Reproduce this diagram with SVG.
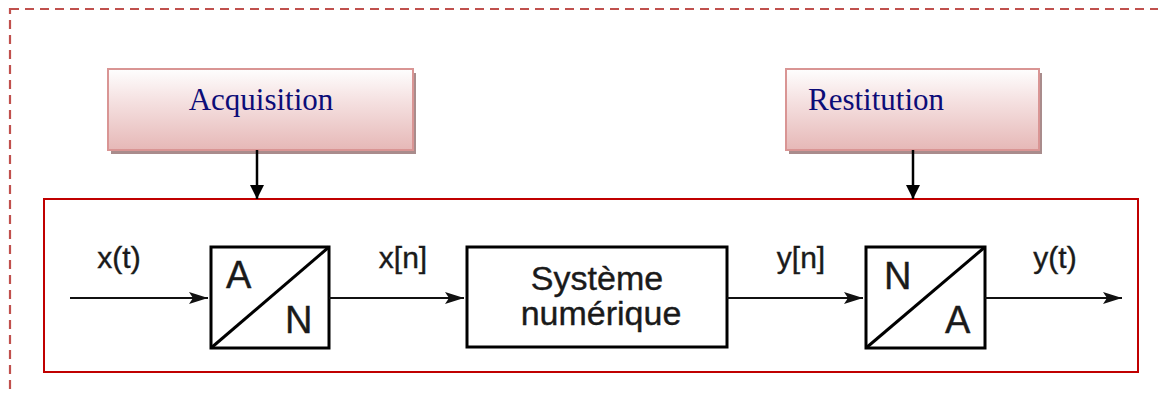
<svg xmlns="http://www.w3.org/2000/svg" width="1158" height="394" viewBox="0 0 1158 394">
<defs>
<linearGradient id="pink" x1="0" y1="0" x2="0" y2="1">
<stop offset="0" stop-color="#fefefe"/>
<stop offset="0.35" stop-color="#f6e4e4"/>
<stop offset="1" stop-color="#e6b8b7"/>
</linearGradient>
<marker id="bigArrow" markerUnits="userSpaceOnUse" markerWidth="16" markerHeight="16" refX="14" refY="7" orient="auto">
<path d="M0,0 L14,7 L0,14 z" fill="#000"/>
</marker>
<marker id="smallArrow" markerUnits="userSpaceOnUse" markerWidth="22" markerHeight="14" refX="19" refY="6" orient="auto">
<path d="M0,0 L19,6 L0,12 L4,6 z" fill="#111"/>
</marker>
<style>
.frame{fill:none;stroke:#c0504d;stroke-width:2.2;stroke-dasharray:9 6}
.phase{fill:url(#pink);stroke:#d99594;stroke-width:2}
.shadow{fill:#a98c8c}
.phaseText{font-family:"Liberation Serif",serif;font-size:31px;fill:#0c0c78}
.sys{fill:none;stroke:#c00000;stroke-width:2}
.blk{fill:#fff;stroke:#000;stroke-width:3}
.lbl{font-family:"Liberation Sans",Arial,sans-serif;fill:#1a1a1a;stroke:#1a1a1a;stroke-width:0.4}
.sig{font-size:30px}
.conv{font-size:38px}
.blkText{font-size:34px}
.cline{stroke:#000;stroke-width:2.5;fill:none}
.sline{stroke:#111;stroke-width:2;fill:none}
</style>
</defs>
<rect class="frame" x="10" y="9" width="1180" height="420"/>
<rect id="system-frame" class="sys" x="44" y="199" width="1094" height="173"/>
<g id="acquisition">
<rect class="shadow" x="111" y="73" width="305" height="81"/>
<rect class="phase" x="108" y="69" width="305" height="81"/>
<text class="phaseText" x="261" y="110" text-anchor="middle">Acquisition</text>
</g>
<g id="restitution">
<rect class="shadow" x="789" y="73" width="253" height="81"/>
<rect class="phase" x="786" y="69" width="253" height="81"/>
<text class="phaseText" x="808" y="110">Restitution</text>
</g>
<g id="adc">
<rect class="blk" x="211" y="247" width="118" height="101"/>
<line x1="211" y1="348" x2="329" y2="247" stroke="#000" stroke-width="3"/>
<text class="lbl conv" x="226" y="288">A</text>
<text class="lbl conv" x="285" y="333">N</text>
</g>
<g id="digital-system">
<rect class="blk" x="467" y="247" width="260" height="100"/>
<text class="lbl blkText" text-anchor="middle"><tspan x="597" y="290">Système</tspan><tspan x="601" y="325">numérique</tspan></text>
</g>
<g id="dac">
<rect class="blk" x="866" y="247" width="119" height="101"/>
<line x1="866" y1="348" x2="985" y2="247" stroke="#000" stroke-width="3"/>
<text class="lbl conv" x="884" y="289">N</text>
<text class="lbl conv" x="945" y="333">A</text>
</g>
<g id="connectors">
<line class="cline" x1="257" y1="150" x2="257" y2="199" marker-end="url(#bigArrow)"/>
<line class="cline" x1="913" y1="150" x2="913" y2="199" marker-end="url(#bigArrow)"/>
<line class="sline" x1="70" y1="298" x2="208" y2="298" marker-end="url(#smallArrow)"/>
<line class="sline" x1="329" y1="298" x2="464" y2="298" marker-end="url(#smallArrow)"/>
<line class="sline" x1="727" y1="298" x2="863" y2="298" marker-end="url(#smallArrow)"/>
<line class="sline" x1="985" y1="298" x2="1122" y2="298" marker-end="url(#smallArrow)"/>
<text class="lbl sig" x="119" y="268" text-anchor="middle">x(t)</text>
<text class="lbl sig" x="403" y="268" text-anchor="middle">x[n]</text>
<text class="lbl sig" x="801" y="268" text-anchor="middle">y[n]</text>
<text class="lbl sig" x="1055" y="268" text-anchor="middle">y(t)</text>
</g>
</svg>
